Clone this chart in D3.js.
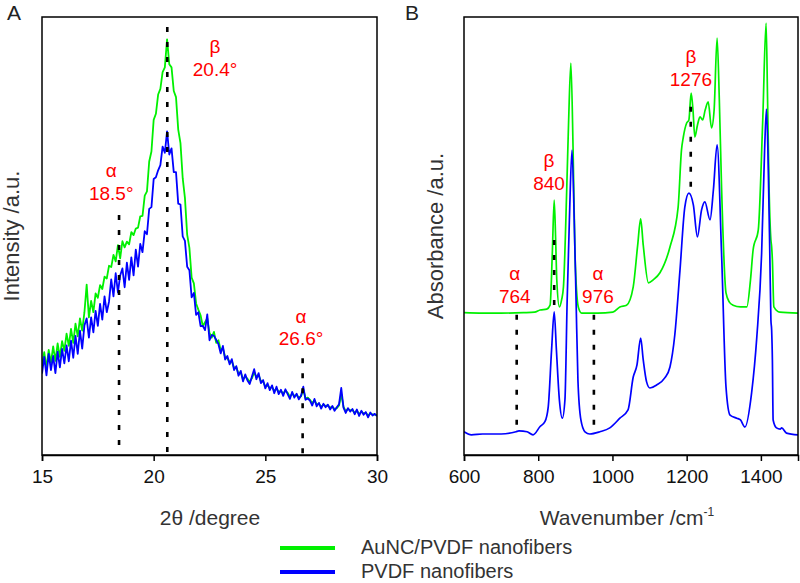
<!DOCTYPE html>
<html><head><meta charset="utf-8">
<script src="https://cdnjs.cloudflare.com/ajax/libs/d3/7.8.5/d3.min.js"></script>
<style>
body{margin:0;background:#fff;}
svg{display:block;font-family:"Liberation Sans",Arial,sans-serif;}
</style></head>
<body><svg id="c" width="800" height="583"></svg>
<script>
// ---------- Panel A: XRD (2θ from 15.0 to 30.0, step 0.1) ----------
const xrdStart = 15.0, xrdStep = 0.1;
const xrdAuNC = [
20.3,23.5,19.9,24.0,21.1,24.8,21.5,25.5,22.4,26.0,
23.8,27.7,24.9,28.8,25.6,30.0,27.1,31.2,28.4,32.6,
38.9,31.4,35.2,32.6,36.9,35.9,38.8,37.9,40.7,40.3,
43.2,42.9,45.7,44.2,47.9,44.9,48.8,47.4,48.7,48.1,
50.9,50.2,51.7,51.9,54.5,54.6,59.2,60.2,67.0,69.3,
76.5,77.9,82.3,83.6,87.4,88.5,94.9,89.2,88.5,83.1,
81.7,74.3,71.2,63.2,58.7,50.3,47.3,40.5,39.2,34.6,
33.2,31.9,29.4,30.3,31.2,27.9,26.8,28.1,25.6,26.2,
23.9,24.4,22.3,22.1,21.2,21.4,19.9,20.0,18.6,18.9,
17.3,17.9,17.4,16.7,17.5,18.9,17.8,18.2,16.9,16.8,
15.6,15.9,15.3,15.5,14.6,15.2,14.4,14.6,14.0,14.7,
14.2,13.3,14.0,13.5,13.7,13.1,13.4,15.0,12.9,13.1,
12.6,11.8,12.5,11.5,11.7,11.0,11.5,11.2,11.3,10.8,
11.0,10.5,10.7,11.3,13.9,11.0,10.0,10.5,10.2,10.3,
9.6,10.1,9.3,9.9,9.5,9.6,9.0,9.5,9.3,9.2,
9.1];
const xrdPVDF = [
18.6,22.4,18.2,23.1,19.4,22.6,18.7,23.6,20.0,24.2,
20.9,25.0,21.4,26.1,22.2,27.2,23.1,28.4,24.3,29.6,
31.2,26.8,31.4,28.0,32.9,29.5,34.5,30.9,36.2,32.6,
35.0,40.1,36.2,41.5,37.1,41.0,42.6,38.3,43.9,40.0,
45.1,41.0,46.9,43.0,48.2,46.3,51.1,50.4,56.2,56.6,
63.0,63.4,65.0,66.2,70.4,69.0,73.9,68.6,70.0,64.6,
64.6,57.4,57.2,49.9,48.9,43.0,42.2,36.0,37.0,32.0,
32.6,29.4,29.5,28.5,32.1,26.2,27.4,27.2,26.3,25.3,
23.2,24.9,21.8,22.6,20.7,21.9,19.4,20.3,18.1,19.2,
16.8,18.4,17.0,16.2,17.9,19.6,17.3,18.7,16.4,17.1,
15.2,16.4,14.8,15.9,14.1,15.6,13.9,14.9,13.5,15.0,
13.9,12.8,14.4,13.1,14.0,12.7,13.6,15.6,12.6,12.9,
12.4,11.3,12.8,11.1,11.9,10.6,11.7,10.9,11.5,10.4,
11.2,10.1,10.9,11.6,15.3,10.8,9.6,10.7,9.9,10.5,
9.3,10.4,8.9,10.1,9.2,9.8,8.6,9.7,9.0,9.4,
8.9];
const xrdTicks = [15, 20, 25, 30];
const xrdMarkPos = [18.45, 20.61, 26.67];
const xrdMarkTop = [54.8, 97.7, 22.1];
const xrdLabX = [18.1, 22.75, 26.6];
const xrdLabPhase = ["α", "β", "α"];
const xrdLabValue = ["18.5°", "20.4°", "26.6°"];
const xrdLabY1 = [64.9, 93.2, 31.6];
const xrdLabY2 = [59.8, 88.1, 26.5];

// ---------- Panel B: FTIR ----------
const ftirAuNCw = [600,650,700,760,790,805,823,832,838,843,847,850,857,863,868,877,882,888,894,899,908,917,960,1001,1020,1038,1056,1068,1076,1083,1097,1110,1128,1155,1177,1186,1191,1200,1206,1212,1217,1222,1229,1236,1243,1250,1258,1267,1274,1282,1288,1294,1306,1315,1325,1345,1362,1372,1379,1393,1405,1414,1418,1422,1427,1429,1431,1435,1451,1500];
const ftirAuNCa = [32.5,32.4,32.4,32.5,32.6,33.1,33.3,34.2,46.1,58.2,49.1,40.0,33.8,35.4,38.4,61.2,76.5,89.5,69.6,46.1,33.8,32.4,32.4,32.6,33.8,34.2,38.4,47.9,53.9,47.9,39.3,40.0,41.6,47.5,56.6,69.6,72.6,75.8,76.5,82.6,78.8,72.6,75.3,77.2,76.5,78.8,80.6,74.7,78.8,95.2,81.1,61.2,37.0,34.9,34.2,33.8,33.8,40.0,46.8,51.4,76.5,98.6,81.1,61.2,49.1,47.5,44.5,33.8,32.6,32.4];
const ftirPVDFw = [600,620,650,700,740,748,770,786,805,818,827,836,843,849,857,865,872,878,884,891,897,902,907,915,926,939,966,993,1020,1042,1056,1066,1076,1083,1092,1101,1119,1141,1155,1168,1182,1195,1206,1218,1229,1240,1249,1263,1272,1282,1294,1306,1317,1335,1345,1357,1375,1389,1402,1410,1415,1420,1424,1427,1429,1431,1433,1442,1452,1456,1469,1500];
const ftirPVDFa = [5.3,4.6,4.8,4.8,5.3,5.5,5.3,4.6,6.5,7.6,11.0,24.0,32.7,24.0,12.6,8.4,12.6,35.4,53.7,69.6,53.7,35.4,17.1,8.0,5.3,4.8,5.3,6.2,8.4,10.3,17.8,20.5,26.7,21.7,16.7,15.3,16.0,17.6,20.1,27.4,42.2,56.6,59.8,57.1,49.8,55.9,57.8,53.7,60.5,70.8,46.1,15.5,9.1,8.4,8.0,6.4,14.2,26.9,46.1,69.6,79.0,65.1,46.1,30.8,28.5,21.7,8.0,6.2,5.9,6.2,5.0,4.6];
const ftirTicks = [600, 800, 1000, 1200, 1400];
const ftirMarkPos = [742, 843, 950, 1211];
const ftirMarkTop = [32.0, 49.1, 32.0, 79.5];
const ftirMarkBot = [5.7, 33.1, 5.7, 60.5];
const ftirLabX = [737, 829, 961, 1211.5];
const ftirLabPhase = ["α", "β", "α", "β"];
const ftirLabValue = ["764", "840", "976", "1276"];
const ftirLabY1 = [41.4, 67.2, 41.4, 90.9];
const ftirLabY2 = [36.3, 62.1, 36.3, 85.8];

const seriesNames = ["AuNC/PVDF nanofibers", "PVDF nanofibers"];
const seriesColors = ["#00f000", "#0000ff"];

// ---------- drawing ----------
const svg = d3.select("#c");
const plotTop = 17, plotBottom = 455;
const labelFont = 19;

function panel(opts) {
  const g = svg.append("g");
  const x = d3.scaleLinear().domain(opts.xDomain).range(opts.xRange);
  const y = d3.scaleLinear().domain([0, 100]).range([plotBottom, plotTop]);
  const clipId = "clip" + opts.id;
  svg.append("clipPath").attr("id", clipId).append("rect")
    .attr("x", opts.xRange[0]).attr("y", plotTop)
    .attr("width", opts.xRange[1] - opts.xRange[0]).attr("height", plotBottom - plotTop);

  const line = d3.line().x(d => x(d[0])).y(d => y(d[1])).curve(opts.curve);
  const lg = g.append("g").attr("clip-path", `url(#${clipId})`);
  opts.series.forEach((s, i) => {
    lg.append("path").attr("d", line(s)).attr("fill", "none")
      .attr("stroke", seriesColors[i]).attr("stroke-width", opts.lw)
      .attr("stroke-linejoin", "round");
  });

  opts.marks.forEach(m => {
    g.append("line").attr("x1", x(m[0])).attr("x2", x(m[0]))
      .attr("y1", y(m[1])).attr("y2", y(m[2]))
      .attr("stroke", "#000").attr("stroke-width", 2.6)
      .attr("stroke-dasharray", "5,10");
  });

  opts.labels.forEach(l => {
    g.append("text").attr("x", x(l[0])).attr("y", y(l[1]))
      .attr("text-anchor", "middle").attr("dominant-baseline", "central")
      .attr("fill", "#ff0000").attr("font-size", labelFont).text(l[3]);
    g.append("text").attr("x", x(l[0])).attr("y", y(l[2]))
      .attr("text-anchor", "middle").attr("dominant-baseline", "central")
      .attr("fill", "#ff0000").attr("font-size", labelFont).text(l[4]);
  });

  g.append("rect").attr("x", opts.xRange[0]).attr("y", plotTop)
    .attr("width", opts.xRange[1] - opts.xRange[0]).attr("height", plotBottom - plotTop)
    .attr("fill", "none").attr("stroke", "#000").attr("stroke-width", 1.5);

  const ax = g.append("g").attr("transform", `translate(0,${plotBottom})`)
    .call(d3.axisBottom(x).tickValues(opts.ticks).tickSize(6).tickPadding(9).tickFormat(d3.format("d")));
  ax.select(".domain").attr("stroke", "#000").attr("stroke-width", 1.5);
  ax.selectAll(".tick line").attr("stroke", "#000").attr("stroke-width", 1.5);
  ax.selectAll(".tick text").attr("font-size", 19).attr("fill", "#111")
    .attr("font-family", "Liberation Sans, Arial, sans-serif");

  return {x, y, g};
}

panel({
  id: "A", xDomain: [15, 30], xRange: [42, 377], lw: 1.8, ticks: xrdTicks, curve: d3.curveLinear,
  series: [xrdAuNC.map((v, i) => [xrdStart + i * xrdStep, v]), xrdPVDF.map((v, i) => [xrdStart + i * xrdStep, v])],
  marks: xrdMarkPos.map((p, i) => [p, xrdMarkTop[i], 0]),
  labels: xrdLabX.map((p, i) => [p, xrdLabY1[i], xrdLabY2[i], xrdLabPhase[i], xrdLabValue[i]])
});
panel({
  id: "B", xDomain: [600, 1500], xRange: [464, 798], lw: 1.7, ticks: ftirTicks, curve: d3.curveMonotoneX,
  series: [ftirAuNCw.map((w, i) => [w, ftirAuNCa[i]]), ftirPVDFw.map((w, i) => [w, ftirPVDFa[i]])],
  marks: ftirMarkPos.map((p, i) => [p, ftirMarkTop[i], ftirMarkBot[i]]),
  labels: ftirLabX.map((p, i) => [p, ftirLabY1[i], ftirLabY2[i], ftirLabPhase[i], ftirLabValue[i]])
});

const titleColor = "#333";
svg.append("text").attr("x", 210).attr("y", 525).attr("text-anchor", "middle")
  .attr("font-size", 21).attr("fill", titleColor).text("2θ /degree");
const wt = svg.append("text").attr("x", 627).attr("y", 525).attr("text-anchor", "middle")
  .attr("font-size", 21).attr("fill", titleColor);
wt.append("tspan").text("Wavenumber /cm");
wt.append("tspan").attr("font-size", 12).attr("dy", -9).text("-1");

svg.append("text").attr("transform", "translate(19,236) rotate(-90)").attr("text-anchor", "middle")
  .attr("font-size", 22).attr("fill", titleColor).text("Intensity /a.u.");
svg.append("text").attr("transform", "translate(443,236) rotate(-90)").attr("text-anchor", "middle")
  .attr("font-size", 22).attr("fill", titleColor).text("Absorbance /a.u.");

svg.append("text").attr("x", 7).attr("y", 20).attr("font-size", 21).attr("fill", "#222").text("A");
svg.append("text").attr("x", 405).attr("y", 20).attr("font-size", 21).attr("fill", "#222").text("B");

const legY = [547, 571];
seriesNames.forEach((n, i) => {
  svg.append("line").attr("x1", 280).attr("x2", 335).attr("y1", legY[i] + 1).attr("y2", legY[i] + 1)
    .attr("stroke", seriesColors[i]).attr("stroke-width", 4);
  svg.append("text").attr("x", 361).attr("y", legY[i]).attr("dominant-baseline", "central")
    .attr("font-size", 20).attr("fill", titleColor).text(n);
});
</script>
</body></html>
